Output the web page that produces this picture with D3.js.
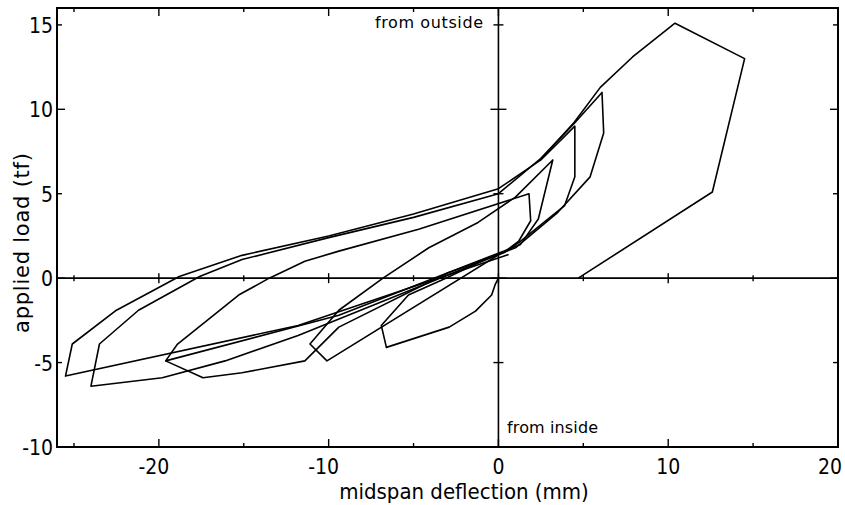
<!DOCTYPE html>
<html><head><meta charset="utf-8">
<script src="https://cdnjs.cloudflare.com/ajax/libs/d3/7.8.5/d3.min.js"></script>
<style>
body{margin:0;background:#fff;}
text{font-family:"DejaVu Sans Condensed","Liberation Sans Narrow","DejaVu Sans",sans-serif;fill:#000;}
.note{font-family:"DejaVu Sans",sans-serif;}
</style></head>
<body><svg id="chart" width="845" height="505"></svg>
<script>
// ---- data (midspan deflection mm, applied load tf) ----
const xTicks = [-20, -10, 0, 10, 20];
const yTicks = [15, 10, 5, 0, -5, -10];
const xTitle = "midspan deflection (mm)";
const yTitle = "applied load (tf)";
const noteTop = "from outside";
const noteBottom = "from inside";

const cycle1 = [[0,0],[-0.2,-0.4],[-0.4,-1.0],[-1.35,-1.95],[-2.9,-2.9],[-6.6,-4.1],[-6.9,-2.8],[-5.3,-1.0],[-3.1,0],[-1.0,1.0],[0.2,1.5]];
const cycle2 = [[0.2,1.5],[-10.1,-4.9],[-11.1,-3.9],[-9.4,-1.9],[-6.8,0],[-4.1,1.8],[-1.2,3.3],[1.0,4.8],[3.2,7.0],[2.35,3.5],[1.3,2.0],[0.3,1.6]];
const cycle3 = [[0.3,1.6],[-9.4,-2.2],[-19.6,-4.9],[-18.9,-3.9],[-15.3,-1.0],[-13.5,0],[-11.4,1.0],[-9.4,1.6],[-4.7,2.9],[1.8,5.0],[1.9,3.4],[1.2,2.2],[0.3,1.5]];
const cycle4 = [[0.3,1.5],[-3,0.3],[-9.4,-2.9],[-11.4,-4.9],[-15.1,-5.6],[-17.4,-5.9],[-19.6,-4.9]];
const cycle5 = [[0.6,1.4],[-11.8,-2.8],[-25.5,-5.8],[-25.1,-3.9],[-22.5,-1.9],[-18.8,0.1],[-15.1,1.35],[-10,2.5],[-5,3.8],[0,5.3],[2.5,7.0],[4.5,9.0],[4.5,6.0],[3.9,4.3],[1.2,2.1],[0.3,1.5]];
const cycle6 = [[1.0,1.8],[-11.8,-3.4],[-16.1,-4.9],[-19.8,-5.9],[-24.0,-6.4],[-23.5,-3.9],[-21.2,-1.9],[-17.6,0.1],[-15.1,1.1],[-10,2.4],[-5,3.6],[0,5.0],[2.5,7.1],[4.5,9.2],[6.1,11.0],[6.2,8.6],[5.4,6.0],[3.5,3.9],[1.0,1.8]];
const cycle7 = [[2.5,7.05],[4.4,9.15],[6.0,11.3],[7.9,13.1],[10.4,15.1],[14.5,13.0],[12.6,5.1],[4.7,0]];
const cycles = [cycle1, cycle2, cycle3, cycle4, cycle5, cycle6, cycle7];

// ---- layout ----
const svg = d3.select("#chart");
const L = 57, R = 838, T = 8, B = 447;
const x = d3.scaleLinear().domain([-26, 20]).range([L, R]);
const y = d3.scaleLinear().domain([-10, 16]).range([B, T]);

const line = d3.line().x(d => x(d[0])).y(d => y(d[1]));

// zero lines
svg.append("line").attr("x1", L).attr("x2", R).attr("y1", y(0)).attr("y2", y(0))
  .attr("stroke", "#000").attr("stroke-width", 1.6);
svg.append("line").attr("x1", x(0)).attr("x2", x(0)).attr("y1", T).attr("y2", B)
  .attr("stroke", "#000").attr("stroke-width", 1.6);

// ticks on frame & zero lines
const xt = d3.range(-25, 20, 5);
const yt = d3.range(-10, 16, 5);
const g = svg.append("g").attr("stroke", "#000").attr("stroke-width", 1.4);
xt.forEach(v => {
  const len = (v % 10 === 0) ? 8 : 4;
  g.append("line").attr("x1", x(v)).attr("x2", x(v)).attr("y1", B).attr("y2", B - len);
  g.append("line").attr("x1", x(v)).attr("x2", x(v)).attr("y1", T).attr("y2", T + len);
  g.append("line").attr("x1", x(v)).attr("x2", x(v)).attr("y1", y(0) - len / 2 - 1).attr("y2", y(0) + len / 2 + 1);
});
yt.forEach(v => {
  const len = (v % 10 === 0) ? 8 : 5;
  g.append("line").attr("x1", L).attr("x2", L + len).attr("y1", y(v)).attr("y2", y(v));
  g.append("line").attr("x1", R).attr("x2", R - len).attr("y1", y(v)).attr("y2", y(v));
  g.append("line").attr("x1", x(0) - len).attr("x2", x(0) + len).attr("y1", y(v)).attr("y2", y(v));
});

// curves
cycles.forEach(c => {
  svg.append("path").datum(c).attr("d", line)
    .attr("fill", "none").attr("stroke", "#000").attr("stroke-width", 1.6)
    .attr("stroke-linejoin", "round");
});

// frame
svg.append("rect").attr("x", L).attr("y", T).attr("width", R - L).attr("height", B - T)
  .attr("fill", "none").attr("stroke", "#000").attr("stroke-width", 2);

// tick labels
svg.selectAll(".xl").data(xTicks).enter().append("text")
  .attr("x", d => d === 20 ? 830 : (d < 0 ? x(d) - 5 : x(d))).attr("y", 474)
  .attr("text-anchor", "middle")
  .attr("font-size", 21).text(d => d);
svg.selectAll(".yl").data(yTicks).enter().append("text")
  .attr("x", 53).attr("y", d => y(d) + 8)
  .attr("text-anchor", "end").attr("font-size", 21).text(d => d);

// titles
svg.append("text").attr("x", 464).attr("y", 499).attr("text-anchor", "middle")
  .attr("font-size", 22).text(xTitle);
svg.append("text").attr("class", "note").attr("transform", "translate(29,243) rotate(-90)")
  .attr("text-anchor", "middle").attr("font-size", 21)
  .attr("textLength", 180).attr("lengthAdjust", "spacing").text(yTitle);

// notes
svg.append("text").attr("class", "note").attr("x", 375).attr("y", 28).attr("font-size", 16)
  .attr("textLength", 108).attr("lengthAdjust", "spacing").text(noteTop);
svg.append("text").attr("class", "note").attr("x", 507).attr("y", 433).attr("font-size", 16)
  .attr("textLength", 91).attr("lengthAdjust", "spacing").text(noteBottom);
</script></body></html>
